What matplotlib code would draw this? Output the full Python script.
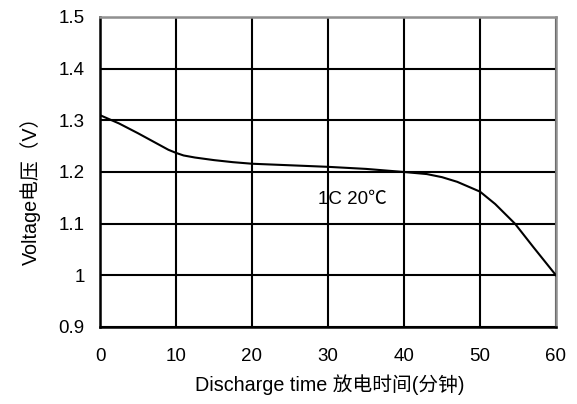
import matplotlib
matplotlib.use("Agg")
import matplotlib.pyplot as plt

plt.rcParams['font.family'] = ['Liberation Sans', 'Noto Sans CJK SC', 'DejaVu Sans']

time_min = [0, 2.5, 5, 7.5, 9, 10, 11, 12.5, 15, 17.5, 20, 25, 30, 35, 40, 43, 45, 47, 50, 52, 54.6, 57, 60]
voltage = [1.310, 1.294, 1.275, 1.255, 1.243, 1.237, 1.232, 1.228, 1.223, 1.219, 1.216, 1.213, 1.210, 1.206, 1.200, 1.196, 1.190, 1.181, 1.162, 1.138, 1.100, 1.055, 1.000]
x_ticks = [0, 10, 20, 30, 40, 50, 60]
y_ticks = [0.9, 1.0, 1.1, 1.2, 1.3, 1.4, 1.5]
y_tick_labels = ['0.9', '1', '1.1', '1.2', '1.3', '1.4', '1.5']

fig = plt.figure(figsize=(5.77, 4.04), dpi=100)
ax = fig.add_axes([100/577, 77/404, 456/577, 310/404])

ax.plot(time_min, voltage, color='black', lw=1.5, zorder=3)
ax.set_xlim(0, 60)
ax.set_ylim(0.9, 1.5)
ax.set_xticks(x_ticks)
ax.set_yticks(y_ticks)
ax.set_yticklabels(y_tick_labels)
ax.grid(True, color='black', lw=1.5)
ax.tick_params(length=0, labelsize=13.5)
ax.tick_params(axis='x', pad=15)
ax.tick_params(axis='y', pad=11)
for s in ['left', 'bottom']:
    ax.spines[s].set_color('black')
    ax.spines[s].set_linewidth(1.8)
for s in ['top', 'right']:
    ax.spines[s].set_color('#909090')
    ax.spines[s].set_linewidth(1.8)

ax.text(33.2, 1.147, '1C 20℃', fontsize=13.5, ha='center', va='center', zorder=4)
fig.text(330/577, 1 - 385/404, 'Discharge time 放电时间(分钟)', fontsize=14.2,
         ha='center', va='center')
fig.text(30/577, 1 - 186/404, 'Voltage电压（V）', fontsize=14.2, rotation=90,
         ha='center', va='center')

fig.savefig('out.png', dpi=100)
